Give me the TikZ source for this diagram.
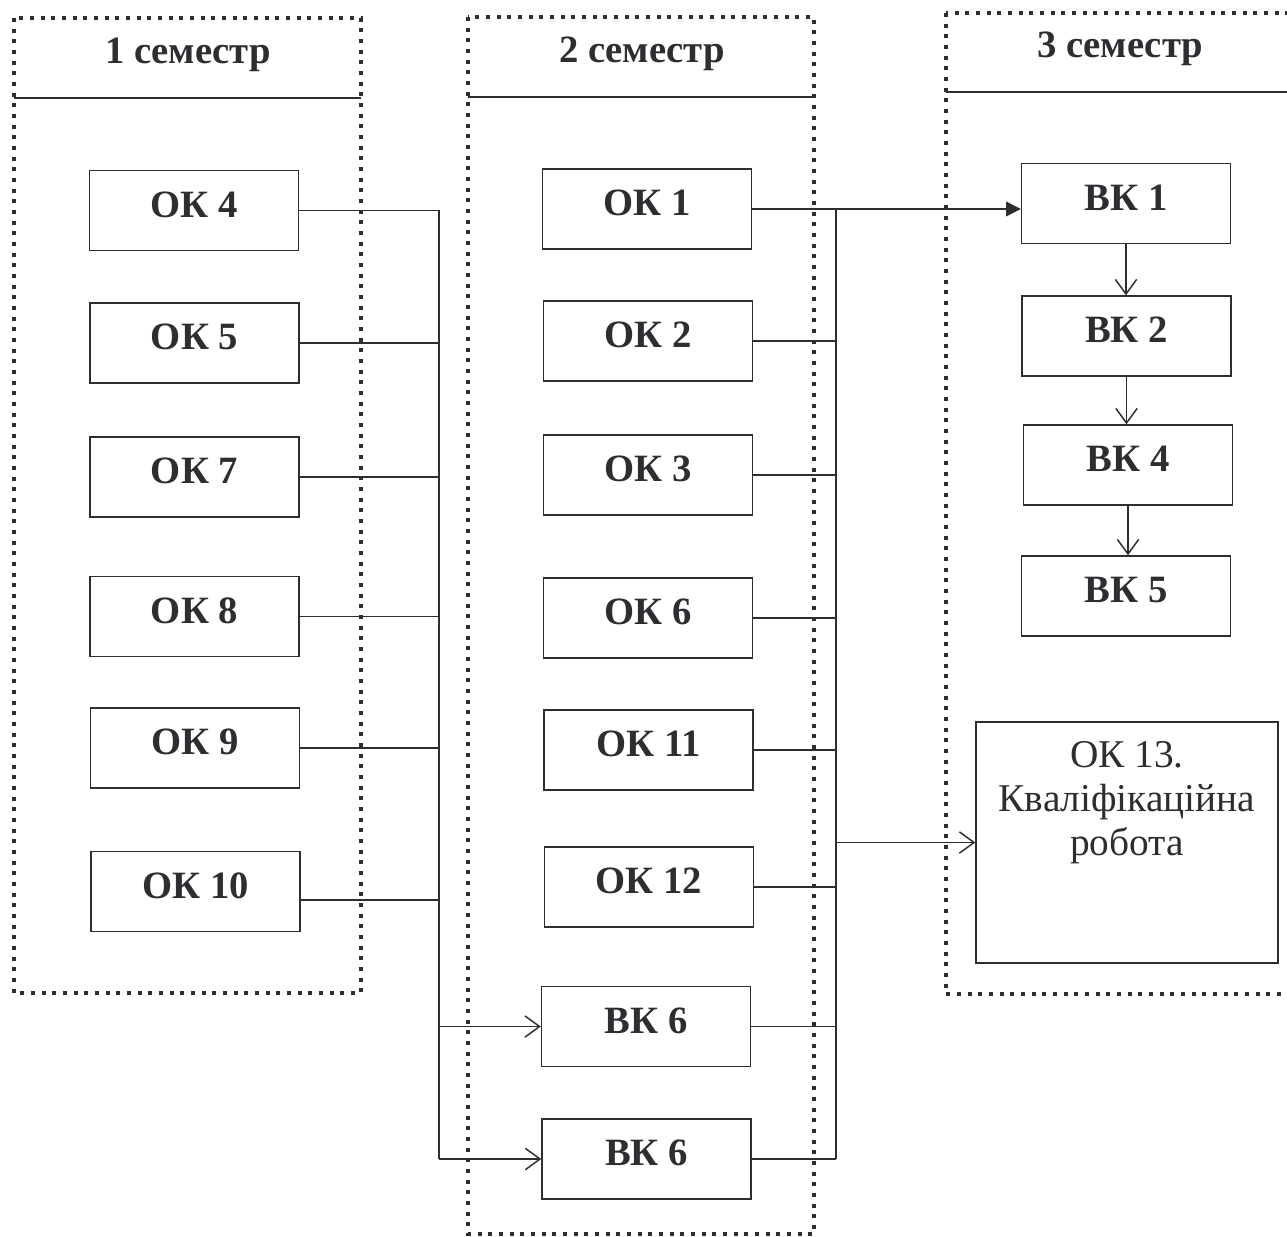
\documentclass[tikz,border=0pt]{standalone}
\usepackage{fontspec}
\setmainfont{Liberation Serif}
\usetikzlibrary{arrows.meta}
\definecolor{ink}{RGB}{45,45,50}
\begin{document}
\begin{tikzpicture}[x=0.75pt,y=-0.75pt,
  semframe/.style={draw=ink, line width=3.1pt, dash pattern=on 3.1pt off 4.9pt},
  divider/.style={draw=ink, line width=1.1pt},
  semtitle/.style={anchor=base, inner sep=0pt, text=ink, font=\bfseries\fontsize{29}{33}\selectfont},
  course/.style={draw=ink, line width=1.1pt, minimum width=156.75pt, minimum height=60pt,
    inner sep=0pt, text height=20pt, text depth=10pt, text=ink,
    font=\bfseries\fontsize{29}{33}\selectfont},
  link/.style={draw=ink, line width=1.2pt},
  openarrow/.style={link, -{Straight Barb[length=11pt, width=16pt, line width=1.1pt]}},
  fullarrow/.style={link, -{Triangle[length=11pt, width=11pt]}}
]
\useasboundingbox (0,0) rectangle (1287,1236);
\fill[white] (0,0) rectangle (1287,1236);

\begin{scope}
\clip (0,0) rectangle (1287,1236);
% semester frames with their title dividers
\draw[semframe] (14,18) rectangle (361,993);
\draw[divider] (14,98) -- (361,98);
\draw[semframe] (468,17) rectangle (814,1234);
\draw[divider] (468,97) -- (814,97);
\draw[semframe] (946,13) rectangle (1310,994);
\draw[divider] (946,92) -- (1310,92);
\end{scope}

\node[semtitle] (t1) at (188,63) {1 семестр};
\node[semtitle] (t2) at (642,62) {2 семестр};
\node[semtitle] (t3) at (1120,57) {3 семестр};

% semester 1
\node[course] (ok4)  at (194,210.5) {ОК 4};
\node[course] (ok5)  at (194.5,343) {ОК 5};
\node[course] (ok7)  at (194.5,477) {ОК 7};
\node[course] (ok8)  at (194.5,616.5) {ОК 8};
\node[course] (ok9)  at (195,748) {ОК 9};
\node[course] (ok10) at (195.5,891.5) {ОК 10};

% semester 2
\node[course] (ok1)  at (647,209) {ОК 1};
\node[course] (ok2)  at (648,341) {ОК 2};
\node[course] (ok3)  at (648,475) {ОК 3};
\node[course] (ok6)  at (648,618) {ОК 6};
\node[course] (ok11) at (648.5,750) {ОК 11};
\node[course] (ok12) at (649,887) {ОК 12};
\node[course] (bk6a) at (646,1026.5) {ВК 6};
\node[course] (bk6b) at (646.5,1159) {ВК 6};

% semester 3
\node[course] (bk1) at (1126,203.5) {ВК 1};
\node[course] (bk2) at (1126.5,336) {ВК 2};
\node[course] (bk4) at (1128,465) {ВК 4};
\node[course] (bk5) at (1126,596) {ВК 5};
\node[draw=ink, line width=1.1pt, minimum width=226.5pt, minimum height=180.75pt, inner sep=0pt]
  (ok13) at (1127,842.5) {};
\node[anchor=north, align=center, inner sep=0pt, text=ink, font=\fontsize{29.5}{33}\selectfont]
  (ok13text) at (1127,741) {ОК 13.\\Кваліфікаційна\\робота};

% collecting lines
\coordinate (busL) at (439,0);
\coordinate (busR) at (836,0);

\draw[link] (ok4.east) -- (ok4.east -| busL) -- (busL |- bk6b.west);
\foreach \n in {ok5,ok7,ok8,ok9}
  \draw[link] (\n.east) -- (\n.east -| busL);
\draw[link] ([yshift=-6.5pt]ok10.east) -- ([yshift=-6.5pt]ok10.east -| busL);
\draw[openarrow] (busL |- bk6a.west) -- (bk6a.west);
\draw[openarrow] (busL |- bk6b.west) -- (bk6b.west);

\draw[fullarrow] (ok1.east) -- (ok1.east -| bk1.west);
\draw[link] (ok1.east -| busR) -- (busR |- bk6b.east);
\foreach \n in {ok2,ok3,ok6,ok11,ok12,bk6a,bk6b}
  \draw[link] (\n.east) -- (\n.east -| busR);
\draw[openarrow] (busR |- ok13.west) -- (ok13.west);

\draw[openarrow] (bk1.south) -- (bk1.south |- bk2.north);
\draw[openarrow] (bk2.south) -- (bk2.south |- bk4.north);
\draw[openarrow] (bk4.south) -- (bk4.south |- bk5.north);
\end{tikzpicture}
\end{document}
